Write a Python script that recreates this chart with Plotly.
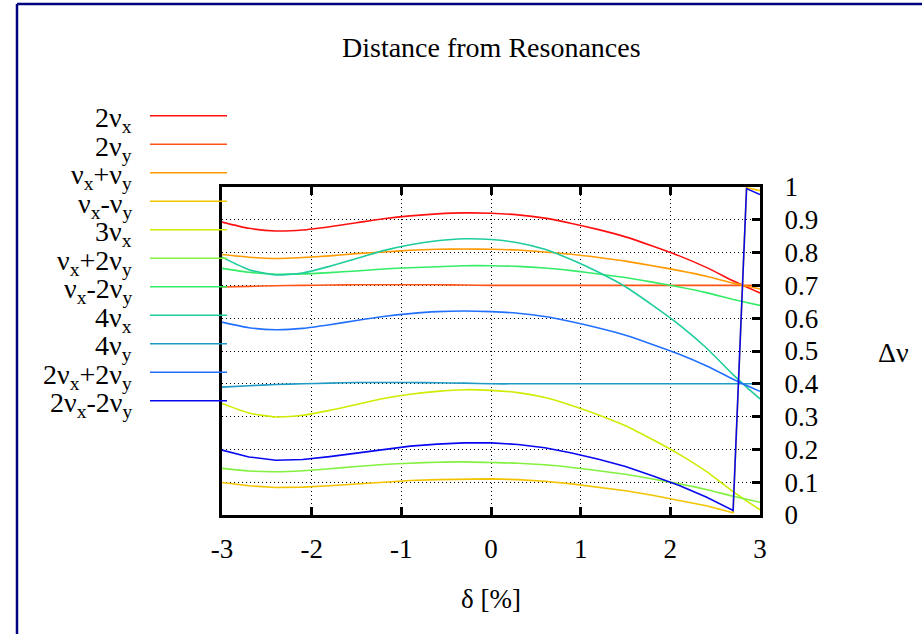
import plotly.graph_objects as go

# momentum deviation [%]
delta = [-3.0, -2.7, -2.4, -2.1, -1.8, -1.5, -1.2, -0.9, -0.6, -0.3, 0.0,
         0.3, 0.6, 0.9, 1.2, 1.5, 1.8, 2.1, 2.4, 2.7, 2.85, 3.0]

# distance from each resonance line
two_nux = [0.893, 0.874, 0.866, 0.869, 0.879, 0.891, 0.903, 0.912, 0.918, 0.921, 0.920,
           0.915, 0.905, 0.889, 0.870, 0.848, 0.820, 0.790, 0.755, 0.714, 0.695, 0.677]
two_nuy = [0.695, 0.697, 0.699, 0.700, 0.701, 0.702, 0.702, 0.702, 0.702, 0.701, 0.700,
           0.700, 0.700, 0.700, 0.700, 0.700, 0.700, 0.700, 0.700, 0.700, 0.700, 0.700]
nux_p_nuy = [0.794, 0.786, 0.782, 0.785, 0.790, 0.797, 0.802, 0.807, 0.810, 0.811, 0.810,
             0.808, 0.802, 0.795, 0.785, 0.774, 0.760, 0.745, 0.728, 0.707, 0.698, 0.689]
nux_m_nuy = [0.099, 0.089, 0.084, 0.085, 0.089, 0.095, 0.101, 0.105, 0.108, 0.110, 0.110,
             0.108, 0.103, 0.095, 0.085, 0.074, 0.060, 0.045, 0.028, 0.007, 0.998, 0.989]
three_nux = [0.340, 0.311, 0.299, 0.304, 0.319, 0.337, 0.355, 0.368, 0.377, 0.382, 0.380,
             0.373, 0.358, 0.334, 0.305, 0.272, 0.230, 0.185, 0.133, 0.071, 0.043, 0.016]
nux_p_2nuy = [0.142, 0.134, 0.132, 0.135, 0.141, 0.148, 0.154, 0.158, 0.161, 0.162, 0.160,
              0.158, 0.153, 0.145, 0.135, 0.124, 0.110, 0.095, 0.078, 0.057, 0.048, 0.039]
nux_m_2nuy = [0.752, 0.740, 0.734, 0.735, 0.739, 0.744, 0.750, 0.754, 0.757, 0.760, 0.760,
              0.758, 0.753, 0.745, 0.735, 0.724, 0.710, 0.695, 0.678, 0.657, 0.648, 0.639]
four_nux = [0.786, 0.748, 0.732, 0.738, 0.758, 0.782, 0.806, 0.824, 0.836, 0.842, 0.840,
            0.830, 0.810, 0.778, 0.740, 0.696, 0.640, 0.580, 0.510, 0.428, 0.390, 0.354]
four_nuy = [0.390, 0.394, 0.398, 0.400, 0.402, 0.404, 0.404, 0.404, 0.403, 0.402, 0.400,
            0.400, 0.400, 0.400, 0.400, 0.400, 0.400, 0.400, 0.400, 0.400, 0.400, 0.400]
two_nux_p_2nuy = [0.588, 0.571, 0.565, 0.569, 0.580, 0.593, 0.605, 0.614, 0.620, 0.622, 0.620,
                  0.615, 0.605, 0.589, 0.570, 0.548, 0.520, 0.490, 0.455, 0.414, 0.395, 0.377]
two_nux_m_2nuy = [0.198, 0.177, 0.167, 0.169, 0.178, 0.189, 0.201, 0.210, 0.216, 0.220, 0.220,
                  0.215, 0.205, 0.189, 0.170, 0.148, 0.120, 0.090, 0.055, 0.014, 0.995, 0.977]

labels = ["2ν<sub>x</sub>", "2ν<sub>y</sub>", "ν<sub>x</sub>+ν<sub>y</sub>",
          "ν<sub>x</sub>-ν<sub>y</sub>", "3ν<sub>x</sub>", "ν<sub>x</sub>+2ν<sub>y</sub>",
          "ν<sub>x</sub>-2ν<sub>y</sub>", "4ν<sub>x</sub>", "4ν<sub>y</sub>",
          "2ν<sub>x</sub>+2ν<sub>y</sub>", "2ν<sub>x</sub>-2ν<sub>y</sub>"]
series = [two_nux, two_nuy, nux_p_nuy, nux_m_nuy, three_nux, nux_p_2nuy,
          nux_m_2nuy, four_nux, four_nuy, two_nux_p_2nuy, two_nux_m_2nuy]
colors = ["#ff1010", "#ff5418", "#ff9a00", "#f2c400", "#cfec00", "#84f040",
          "#34ec66", "#1fcc9c", "#1e9ac4", "#2270ff", "#0808f0"]
# series that wrap around from 0 to 1 near the right edge
wrapping = {3, 10}

x_ticks = [-3, -2, -1, 0, 1, 2, 3]
x_ticktext = ["-3", "-2", "-1", "0", "1", "2", "3"]
y_ticks = [0, 0.1, 0.2, 0.3, 0.4, 0.5, 0.6, 0.7, 0.8, 0.9, 1]
y_ticktext = ["0", "0.1", "0.2", "0.3", "0.4", "0.5", "0.6", "0.7", "0.8", "0.9", "1"]

W, H = 922, 634
L, R, T, B = 222, 760, 187, 515
FONT = "Liberation Serif, Times New Roman, serif"
FS = 27
KEY_FS = 28


def fx(p):
    return (p - L) / (R - L)


def fy(p):
    return (B - p) / (B - T)


fig = go.Figure()
for i, (name, ys, col) in enumerate(zip(labels, series, colors)):
    fig.add_trace(go.Scatter(
        x=delta, y=ys, mode="lines", name=name, showlegend=False,
        line=dict(color=col, width=1.6,
                  shape="linear" if i in wrapping else "spline", smoothing=0.6),
    ))

shapes = []
annotations = []
# key: label text on the left, line sample to the right
for i, (name, col) in enumerate(zip(labels, colors)):
    yl = 115.7 + 28.5 * i
    shapes.append(dict(type="line", xref="paper", yref="paper",
                       x0=fx(150), x1=fx(227), y0=fy(yl), y1=fy(yl),
                       line=dict(color=col, width=1.6)))
    annotations.append(dict(text=name, xref="paper", yref="paper",
                            x=fx(134), y=fy(yl + 4), xanchor="right", yanchor="middle",
                            showarrow=False, font=dict(family=FONT, size=KEY_FS, color="black")))

# outer frame (left and top edges)
navy = "#000080"
for (x0, y0, x1, y1) in [(17, 4, 17, 640), (17, 4, 930, 4)]:
    shapes.append(dict(type="line", xref="paper", yref="paper",
                       x0=fx(x0), y0=fy(y0), x1=fx(x1), y1=fy(y1),
                       line=dict(color=navy, width=2.5)))

annotations.append(dict(text="Δν", xref="paper", yref="paper", x=fx(893), y=fy(352),
                        xanchor="center", yanchor="middle", showarrow=False,
                        font=dict(family=FONT, size=KEY_FS, color="black")))
annotations.append(dict(text="Distance from Resonances", xref="paper", yref="paper",
                        x=fx(491), y=fy(47), xanchor="center", yanchor="middle",
                        showarrow=False, font=dict(family=FONT, size=28, color="black")))

fig.update_layout(
    width=W, height=H,
    margin=dict(l=L, r=W - R, t=T, b=H - B, autoexpand=False),
    paper_bgcolor="white", plot_bgcolor="white",
    font=dict(family=FONT, size=FS, color="black"),
    shapes=shapes, annotations=annotations,
    xaxis=dict(range=[-3, 3], tickvals=x_ticks, ticktext=x_ticktext,
               showgrid=True, gridcolor="black", gridwidth=1, griddash="1px,3px",
               zeroline=False, showline=True, linecolor="black", linewidth=3,
               mirror="ticks", ticks="inside", ticklen=8, tickwidth=3, tickcolor="black",
               ticklabelstandoff=8,
               title=dict(text="δ [%]", standoff=26, font=dict(family=FONT, size=FS))),
    yaxis=dict(range=[0, 1], side="right", tickvals=y_ticks, ticktext=y_ticktext,
               showgrid=True, gridcolor="black", gridwidth=1, griddash="1px,3px",
               zeroline=False, showline=True, linecolor="black", linewidth=3,
               mirror=True, ticks="inside", ticklen=8, tickwidth=3, tickcolor="black",
               ticklabelstandoff=16),
)

fig.write_html("out.html")
